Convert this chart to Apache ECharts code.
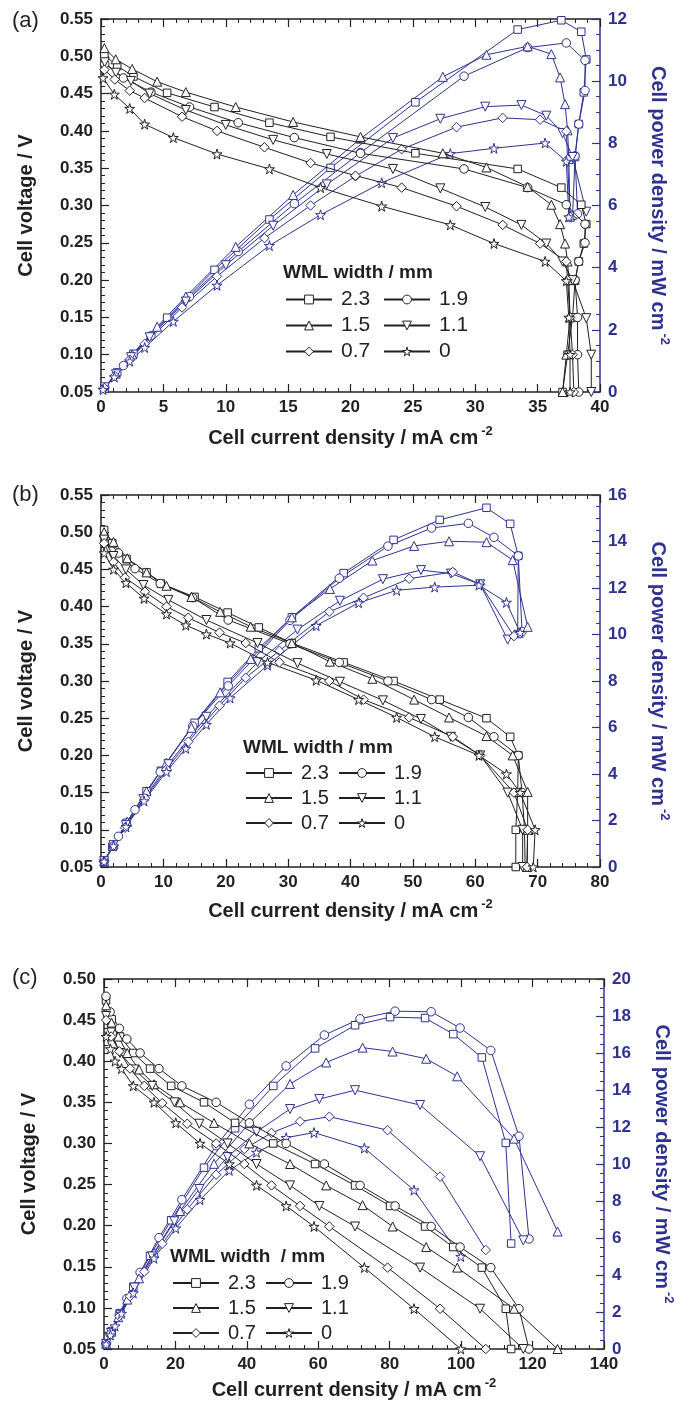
<!DOCTYPE html>
<html><head><meta charset="utf-8">
<script src="https://cdn.jsdelivr.net/npm/echarts@6/dist/echarts.min.js"></script>
<style>html,body{margin:0;padding:0;background:#fff}#c{width:689px;height:1406px}</style>
</head><body><div id="c"></div>
<script>
// ---------- DATA ----------
const names = ['2.3', '1.9', '1.5', '1.1', '0.7', '0'];
// Panel (a): current density (mA/cm2), cell voltage (V), power density (mW/cm2, first N points)
const a_I_23 = [0.27, 1.3, 2.6, 5.3, 9.1, 13.5, 18.4, 25.2, 33.4, 36.9, 38.5, 38.9, 38.7, 38.3, 38.0, 37.8, 37.4, 37.0];
const a_V_23 = [0.502, 0.487, 0.473, 0.451, 0.432, 0.411, 0.392, 0.370, 0.349, 0.324, 0.301, 0.275, 0.249, 0.225, 0.199, 0.150, 0.100, 0.050];
const a_P_23 = [0.14, 0.63, 1.23, 2.39, 3.93, 5.55, 7.21, 9.32, 11.66, 11.96, 11.59, 10.70, 9.64, 8.62, 7.56, 5.67];
const a_I_19 = [0.3, 1.8, 4.0, 7.1, 11.0, 15.5, 20.8, 29.1, 34.2, 37.3, 38.8, 38.8, 38.3, 38.0, 38.2, 38.2, 38.3];
const a_V_19 = [0.490, 0.471, 0.452, 0.432, 0.411, 0.391, 0.370, 0.349, 0.324, 0.301, 0.275, 0.250, 0.225, 0.200, 0.150, 0.100, 0.050];
const a_P_19 = [0.15, 0.85, 1.81, 3.07, 4.52, 6.06, 7.70, 10.16, 11.08, 11.23, 10.67, 9.70, 8.62, 7.60, 5.73];
const a_I_15 = [0.27, 1.18, 2.5, 4.5, 6.8, 10.8, 15.4, 20.8, 27.4, 30.9, 34.2, 36.1, 36.8, 37.2, 37.4, 37.5, 37.6, 37.3, 37.0];
const a_V_15 = [0.511, 0.496, 0.483, 0.466, 0.452, 0.432, 0.412, 0.392, 0.370, 0.351, 0.325, 0.301, 0.275, 0.249, 0.225, 0.200, 0.150, 0.100, 0.050];
const a_P_15 = [0.14, 0.59, 1.21, 2.10, 3.07, 4.67, 6.34, 8.15, 10.14, 10.85, 11.12, 10.87, 10.12, 9.26, 8.42, 7.50, 5.64];
const a_I_11 = [0.3, 1.2, 2.4, 3.9, 6.8, 10.0, 13.8, 18.1, 23.4, 27.2, 30.8, 33.7, 35.7, 37.0, 37.8, 38.9, 39.3, 39.3];
const a_V_11 = [0.492, 0.478, 0.467, 0.450, 0.428, 0.408, 0.388, 0.369, 0.349, 0.323, 0.298, 0.274, 0.249, 0.225, 0.200, 0.149, 0.100, 0.050];
const a_P_11 = [0.15, 0.57, 1.12, 1.76, 2.91, 4.08, 5.35, 6.68, 8.17, 8.79, 9.18, 9.23, 8.89, 8.33, 7.56, 5.80];
const a_I_07 = [0.27, 1.1, 2.3, 3.5, 6.5, 9.3, 13.1, 16.8, 20.4, 24.1, 28.5, 32.2, 35.2, 37.3, 37.4, 37.6, 37.8, 37.9];
const a_V_07 = [0.482, 0.469, 0.454, 0.444, 0.419, 0.400, 0.378, 0.357, 0.340, 0.324, 0.299, 0.274, 0.249, 0.225, 0.200, 0.150, 0.100, 0.050];
const a_P_07 = [0.13, 0.52, 1.04, 1.55, 2.72, 3.72, 4.95, 6.00, 6.94, 7.81, 8.52, 8.82, 8.76, 8.39, 7.48, 5.64];
const a_I_0 = [0.16, 1.07, 2.3, 3.5, 5.8, 9.3, 13.5, 17.6, 22.5, 28.0, 31.5, 35.6, 37.3, 37.5, 37.6, 37.6];
const a_V_0 = [0.471, 0.449, 0.430, 0.409, 0.391, 0.369, 0.349, 0.324, 0.299, 0.274, 0.249, 0.225, 0.199, 0.150, 0.100, 0.050];
const a_P_0 = [0.08, 0.48, 0.99, 1.43, 2.27, 3.43, 4.71, 5.70, 6.73, 7.67, 7.84, 8.01, 7.42, 5.63];
// Panel (b)
const b_I_23 = [0.5, 1.8, 4.1, 7.3, 9.6, 15.0, 20.3, 25.3, 30.6, 38.9, 46.9, 54.3, 61.8, 65.6, 66.9, 66.8, 66.5, 66.5];
const b_V_23 = [0.503, 0.485, 0.464, 0.446, 0.431, 0.413, 0.392, 0.372, 0.351, 0.325, 0.300, 0.275, 0.250, 0.225, 0.200, 0.150, 0.100, 0.050];
const b_P_23 = [0.25, 0.87, 1.90, 3.26, 4.14, 6.20, 7.96, 9.41, 10.74, 12.64, 14.07, 14.93, 15.45, 14.76, 13.38, 10.02];
const b_I_19 = [0.5, 2.8, 5.45, 9.5, 14.7, 20.4, 30.3, 38.2, 46.0, 53.0, 58.9, 63.0, 66.9, 67.5, 67.9, 68.0];
const b_V_19 = [0.495, 0.472, 0.451, 0.431, 0.412, 0.382, 0.350, 0.325, 0.300, 0.275, 0.251, 0.225, 0.200, 0.150, 0.100, 0.050];
const b_P_19 = [0.25, 1.32, 2.46, 4.09, 6.06, 7.79, 10.61, 12.42, 13.80, 14.58, 14.78, 14.18, 13.38, 10.13];
const b_I_15 = [0.5, 2.0, 4.2, 7.3, 10.5, 14.5, 19.1, 24.0, 30.6, 36.7, 43.5, 50.2, 55.8, 61.8, 66.0, 68.4, 68.4, 68.3];
const b_V_15 = [0.500, 0.487, 0.465, 0.446, 0.428, 0.413, 0.393, 0.373, 0.351, 0.326, 0.303, 0.275, 0.251, 0.226, 0.200, 0.151, 0.100, 0.050];
const b_P_15 = [0.25, 0.97, 1.95, 3.26, 4.49, 5.99, 7.51, 8.95, 10.74, 11.96, 13.18, 13.81, 14.01, 13.97, 13.20, 10.33];
const b_I_11 = [0.5, 2.0, 4.0, 6.8, 10.8, 16.9, 25.1, 31.5, 38.3, 45.2, 51.3, 56.1, 60.8, 65.2, 67.6, 67.6];
const b_V_11 = [0.490, 0.468, 0.450, 0.429, 0.409, 0.382, 0.351, 0.324, 0.299, 0.274, 0.249, 0.225, 0.200, 0.150, 0.100, 0.050];
const b_P_11 = [0.25, 0.94, 1.80, 2.92, 4.42, 6.46, 8.81, 10.21, 11.45, 12.38, 12.77, 12.62, 12.16, 9.78];
const b_I_07 = [0.5, 2.0, 3.85, 7.05, 10.5, 14.0, 19.0, 23.2, 28.6, 36.6, 42.1, 49.4, 56.4, 60.8, 66.2, 68.4, 68.3];
const b_V_07 = [0.485, 0.460, 0.439, 0.420, 0.400, 0.385, 0.365, 0.351, 0.325, 0.300, 0.275, 0.251, 0.225, 0.200, 0.150, 0.100, 0.050];
const b_P_07 = [0.24, 0.92, 1.69, 2.96, 4.20, 5.39, 6.94, 8.14, 9.30, 10.98, 11.58, 12.40, 12.69, 12.16, 9.93];
const b_I_0 = [0.5, 2.0, 4.0, 6.9, 10.5, 13.6, 16.9, 20.7, 26.7, 34.5, 41.3, 47.4, 53.5, 60.6, 65.0, 67.2, 69.6, 69.3];
const b_V_0 = [0.472, 0.450, 0.432, 0.411, 0.390, 0.375, 0.363, 0.351, 0.325, 0.301, 0.275, 0.251, 0.225, 0.200, 0.175, 0.150, 0.100, 0.050];
const b_P_0 = [0.24, 0.90, 1.73, 2.84, 4.10, 5.10, 6.13, 7.27, 8.68, 10.38, 11.36, 11.90, 12.04, 12.12, 11.38, 10.08];
// Panel (c)
const c_I_23 = [0.56, 2.15, 4.5, 8.2, 12.9, 18.8, 28.0, 36.7, 47.4, 59.1, 70.3, 80.1, 89.9, 97.8, 105.8, 112.5, 114.0];
const c_V_23 = [0.474, 0.451, 0.430, 0.410, 0.391, 0.370, 0.350, 0.325, 0.300, 0.275, 0.249, 0.224, 0.199, 0.174, 0.149, 0.099, 0.050];
const c_P_23 = [0.27, 0.97, 1.94, 3.36, 5.04, 6.96, 9.80, 11.93, 14.22, 16.25, 17.50, 17.94, 17.89, 17.02, 15.76, 11.14, 5.70];
const c_I_19 = [0.56, 1.7, 4.3, 6.4, 10.1, 15.4, 21.8, 31.4, 40.7, 51.0, 61.7, 71.7, 81.5, 91.6, 99.7, 108.3, 116.2, 119.0];
const c_V_19 = [0.479, 0.460, 0.440, 0.427, 0.410, 0.391, 0.370, 0.350, 0.325, 0.300, 0.275, 0.249, 0.224, 0.199, 0.174, 0.149, 0.099, 0.050];
const c_P_19 = [0.27, 0.78, 1.89, 2.73, 4.14, 6.02, 8.07, 10.99, 13.23, 15.30, 16.97, 17.85, 18.26, 18.23, 17.35, 16.14, 11.50, 5.95];
const c_I_15 = [0.6, 2.1, 4.0, 6.5, 9.8, 14.0, 21.3, 30.8, 40.7, 52.1, 62.2, 72.4, 80.8, 90.2, 98.9, 114.8, 127.0];
const c_V_15 = [0.468, 0.447, 0.430, 0.410, 0.390, 0.372, 0.350, 0.325, 0.300, 0.275, 0.249, 0.225, 0.199, 0.174, 0.149, 0.099, 0.050];
const c_P_15 = [0.28, 0.94, 1.72, 2.67, 3.82, 5.21, 7.46, 10.01, 12.21, 14.33, 15.49, 16.29, 16.08, 15.69, 14.74, 11.37, 6.35];
const c_I_11 = [0.6, 2.0, 4.5, 8.5, 13.5, 19.7, 26.7, 34.6, 42.7, 52.1, 60.3, 70.3, 88.5, 105.3, 117.4];
const c_V_11 = [0.455, 0.435, 0.410, 0.390, 0.370, 0.350, 0.324, 0.300, 0.275, 0.249, 0.224, 0.199, 0.149, 0.099, 0.050];
const c_P_11 = [0.27, 0.87, 1.85, 3.32, 5.00, 6.90, 8.65, 10.38, 11.74, 12.97, 13.51, 13.99, 13.19, 10.42, 5.87];
const c_I_07 = [0.6, 2.0, 4.3, 7.3, 11.3, 16.3, 23.3, 31.4, 39.3, 46.9, 54.9, 63.1, 79.4, 94.1, 106.9];
const c_V_07 = [0.450, 0.430, 0.412, 0.391, 0.370, 0.349, 0.324, 0.300, 0.275, 0.249, 0.224, 0.199, 0.149, 0.099, 0.050];
const c_P_07 = [0.27, 0.86, 1.77, 2.85, 4.18, 5.69, 7.55, 9.42, 10.81, 11.68, 12.30, 12.56, 11.83, 9.32, 5.35];
const c_I_0 = [0.6, 1.8, 3.1, 4.9, 8.2, 14.0, 20.1, 26.9, 35.1, 42.7, 51.0, 58.8, 72.9, 86.8, 99.9];
const c_V_0 = [0.430, 0.415, 0.400, 0.391, 0.370, 0.350, 0.325, 0.300, 0.275, 0.249, 0.224, 0.199, 0.149, 0.099, 0.050];
const c_P_0 = [0.26, 0.75, 1.24, 1.92, 3.03, 4.90, 6.53, 8.07, 9.65, 10.63, 11.42, 11.70, 10.86, 8.59, 5.00];

// axis ranges / ticks
const xMax = [40, 80, 140];
const xStep = [5, 10, 20];
const vMax = [0.55, 0.55, 0.50];
const pMax = [12, 16, 20];
const panelLabels = ['(a)', '(b)', '(c)'];
const legendTitles = ['WML width / mm', 'WML width / mm', 'WML width  / mm'];

// ---------- STYLE ----------
const BLACK = '#231f20', BLUE = '#2e3192';
const FONT = '"Liberation Sans", Arial, Helvetica, sans-serif';
const STAR = 'path://M50,0L61,35L98,35L68,57L79,91L50,70L21,91L32,57L2,35L39,35Z';
const DOWN = 'path://M0,0L10,0L5,8.66Z';
const SYM = {'2.3': 'rect', '1.9': 'circle', '1.5': 'triangle', '1.1': DOWN, '0.7': 'diamond', '0': STAR};
const SSZ = {'2.3': 7.5, '1.9': 8.5, '1.5': 9, '1.1': 9, '0.7': 9.5, '0': 10};

const grids = [
  {left: 101, top: 19, width: 499, height: 373},
  {left: 101, top: 495, width: 499, height: 372},
  {left: 104, top: 979, width: 500, height: 370}
];
const xNameGap = [33, 31, 28];

const panels = [
  [[a_I_23, a_V_23, a_P_23], [a_I_19, a_V_19, a_P_19], [a_I_15, a_V_15, a_P_15], [a_I_11, a_V_11, a_P_11], [a_I_07, a_V_07, a_P_07], [a_I_0, a_V_0, a_P_0]],
  [[b_I_23, b_V_23, b_P_23], [b_I_19, b_V_19, b_P_19], [b_I_15, b_V_15, b_P_15], [b_I_11, b_V_11, b_P_11], [b_I_07, b_V_07, b_P_07], [b_I_0, b_V_0, b_P_0]],
  [[c_I_23, c_V_23, c_P_23], [c_I_19, c_V_19, c_P_19], [c_I_15, c_V_15, c_P_15], [c_I_11, c_V_11, c_P_11], [c_I_07, c_V_07, c_P_07], [c_I_0, c_V_0, c_P_0]]
];

const supRich = (color) => ({
  a: {fontSize: 20, fontWeight: 'bold', fontFamily: FONT, color, lineHeight: 26},
  s: {fontSize: 13, fontWeight: 'bold', fontFamily: FONT, color, lineHeight: 14, verticalAlign: 'top', padding: [0, 0, 0, 3]}
});

const xAxes = [], yAxes = [], series = [], legends = [], titles = [];
grids.forEach((g, k) => {
  const base = {
    type: 'value', gridIndex: k, min: 0, max: xMax[k], interval: xStep[k],
    axisLine: {show: true, onZero: false, lineStyle: {color: BLACK, width: 1.5}},
    axisTick: {show: true, inside: true, length: 8, lineStyle: {color: BLACK, width: 1.2}},
    minorTick: {show: true, splitNumber: 5, length: 4, lineStyle: {color: BLACK, width: 1}},
    splitLine: {show: false}
  };
  xAxes.push(Object.assign({}, base, {
    position: 'bottom',
    axisLabel: {color: BLACK, fontSize: 17, fontWeight: 'bold', fontFamily: FONT, margin: 7},
    name: '{a|Cell current density / mA cm}{s|-2}', nameLocation: 'middle', nameGap: xNameGap[k],
    nameMoveOverlap: false,
    nameTextStyle: {rich: supRich(BLACK)}
  }));
  xAxes.push(Object.assign({}, base, {position: 'top', axisLabel: {show: false}}));
  yAxes.push({
    type: 'value', gridIndex: k, position: 'left', min: 0.05, max: vMax[k], interval: 0.05,
    axisLine: {show: true, onZero: false, lineStyle: {color: BLACK, width: 1.5}},
    axisTick: {show: true, inside: true, length: 8, lineStyle: {color: BLACK, width: 1.2}},
    minorTick: {show: true, splitNumber: 5, length: 4, lineStyle: {color: BLACK, width: 1}},
    splitLine: {show: false},
    axisLabel: {color: BLACK, fontSize: 17, fontWeight: 'bold', fontFamily: FONT, margin: 8, formatter: v => v.toFixed(2)},
    name: 'Cell voltage / V', nameLocation: 'middle', nameGap: 65, nameMoveOverlap: false,
    nameTextStyle: {color: BLACK, fontSize: 20, fontWeight: 'bold', fontFamily: FONT}
  });
  yAxes.push({
    type: 'value', gridIndex: k, position: 'right', min: 0, max: pMax[k], interval: 2,
    axisLine: {show: true, onZero: false, lineStyle: {color: BLUE, width: 1.5}},
    axisTick: {show: true, inside: true, length: 8, lineStyle: {color: BLUE, width: 1.2}},
    minorTick: {show: true, splitNumber: 4, length: 4, lineStyle: {color: BLUE, width: 1}},
    splitLine: {show: false},
    axisLabel: {color: BLUE, fontSize: 17, fontWeight: 'bold', fontFamily: FONT, margin: 8},
    name: '{a|Cell power density / mW cm}{s|-2}', nameLocation: 'middle', nameGap: 45, nameRotate: -90,
    nameMoveOverlap: false,
    nameTextStyle: {rich: supRich(BLUE)}
  });
  // voltage series (black) first so legend picks their style
  panels[k].forEach((d, i) => {
    const nm = names[i];
    series.push({
      type: 'line', name: nm, xAxisIndex: 2 * k, yAxisIndex: 2 * k,
      data: d[1].map((v, j) => [d[0][j], v]),
      symbol: SYM[nm], symbolSize: SSZ[nm], showAllSymbol: true,
      lineStyle: {color: BLACK, width: 1},
      itemStyle: {color: '#ffffff', borderColor: BLACK, borderWidth: 1},
      emphasis: {disabled: true}, z: 3
    });
  });
  panels[k].forEach((d, i) => {
    const nm = names[i];
    series.push({
      type: 'line', name: nm, xAxisIndex: 2 * k, yAxisIndex: 2 * k + 1,
      data: d[2].map((p, j) => [d[0][j], p]),
      symbol: SYM[nm], symbolSize: SSZ[nm], showAllSymbol: true,
      lineStyle: {color: BLUE, width: 1},
      itemStyle: {color: '#ffffff', borderColor: BLUE, borderWidth: 1},
      emphasis: {disabled: true}, z: 2
    });
  });
});

const legPos = [
  {l1: 285, l2: 383, top: 289, fs: 21},
  {l1: 245, l2: 338, top: 763, fs: 20},
  {l1: 172, l2: 265, top: 1273, fs: 20}
];
const titlePos = [
  {pl: 12, pt: 10, tl: 283, tt: 263},
  {pl: 12, pt: 484, tl: 243, tt: 738},
  {pl: 12, pt: 967, tl: 170, tt: 1247}
];
grids.forEach((g, k) => {
  const p = legPos[k];
  [[['2.3', '1.5', '0.7'], p.l1], [['1.9', '1.1', '0'], p.l2]].forEach(([data, left]) => {
    legends.push({
      data: data, orient: 'vertical', left: left, top: p.top, padding: 0, itemGap: 5,
      itemWidth: 46, itemHeight: 11, selectedMode: false,
      itemStyle: {borderWidth: 1},
      textStyle: {fontSize: p.fs, fontFamily: FONT, color: BLACK, lineHeight: 20, padding: [0, 0, 0, 4]}
    });
  });
  const t = titlePos[k];
  titles.push({text: panelLabels[k], left: t.pl, top: t.pt, padding: 0,
    textStyle: {fontSize: 22, fontWeight: 'normal', fontFamily: FONT, color: BLACK}});
  titles.push({text: legendTitles[k], left: t.tl, top: t.tt, padding: 0,
    textStyle: {fontSize: 19, fontWeight: 'bold', fontFamily: FONT, color: BLACK}});
});

const chart = echarts.init(document.getElementById('c'), null, {renderer: 'canvas'});
chart.setOption({
  animation: false,
  backgroundColor: '#ffffff',
  title: titles,
  legend: legends,
  grid: grids,
  xAxis: xAxes,
  yAxis: yAxes,
  series: series
});
</script></body></html>
